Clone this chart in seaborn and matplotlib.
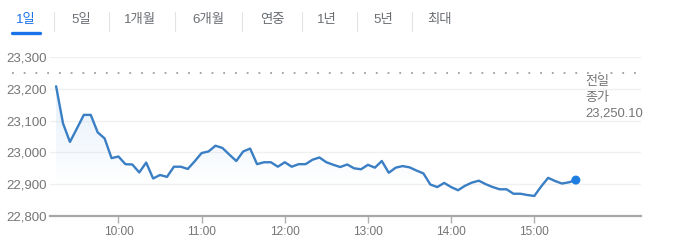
import matplotlib
matplotlib.use("Agg")
import numpy as np
import pandas as pd
import seaborn as sns
import matplotlib.pyplot as plt
from matplotlib.lines import Line2D

# ---------------- data ----------------
times = [
    "09:15", "09:20", "09:25", "09:30", "09:35", "09:40", "09:45", "09:50", "09:55",
    "10:00", "10:05", "10:10", "10:15", "10:20", "10:25", "10:30", "10:35", "10:40", "10:45", "10:50", "10:55",
    "11:00", "11:05", "11:10", "11:15", "11:20", "11:25", "11:30", "11:35", "11:40", "11:45", "11:50", "11:55",
    "12:00", "12:05", "12:10", "12:15", "12:20", "12:25", "12:30", "12:35", "12:40", "12:45", "12:50", "12:55",
    "13:00", "13:05", "13:10", "13:15", "13:20", "13:25", "13:30", "13:35", "13:40", "13:45", "13:50", "13:55",
    "14:00", "14:05", "14:10", "14:15", "14:20", "14:25", "14:30", "14:35", "14:40", "14:45", "14:50", "14:55",
    "15:00", "15:05", "15:10", "15:15", "15:20", "15:25", "15:30",
]
values = [
    23208, 23091, 23033, 23075, 23118, 23118, 23063, 23044, 22982,
    22987, 22963, 22962, 22937, 22968, 22918, 22929, 22923, 22955, 22955, 22948, 22972,
    22998, 23003, 23021, 23014, 22993, 22973, 23003, 23012, 22963, 22969, 22969, 22955,
    22969, 22955, 22963, 22963, 22977, 22984, 22969, 22961, 22954, 22962, 22950, 22947,
    22961, 22952, 22973, 22936, 22952, 22957, 22953, 22943, 22934, 22899, 22891, 22904,
    22891, 22881, 22895, 22905, 22911, 22900, 22891, 22884, 22884, 22870, 22870, 22866,
    22863, 22893, 22920, 22910, 22902, 22906, 22913,
]
prev_close = 23250.10
y_ticks = [22800, 22900, 23000, 23100, 23200, 23300]
x_tick_labels = ["10:00", "11:00", "12:00", "13:00", "14:00", "15:00"]
tabs = ["1일", "5일", "1개월", "6개월", "연중", "1년", "5년", "최대"]
active_tab = "1일"

# ---------------- helpers ----------------
def to_min(s):
    h, m = s.split(":")
    return int(h) * 60 + int(m)

df = pd.DataFrame({"t": [to_min(s) for s in times], "v": values})
x_ticks = [to_min(s) for s in x_tick_labels]

LINE = "#3a7ec4"
DOT = "#1e7fe0"
GRAY_TXT = "#757575"
BLUE = "#1a73e8"

sns.set_theme(style="white")
plt.rcParams["font.family"] = ["Liberation Sans", "Noto Sans CJK KR", "DejaVu Sans"]

W, H = 680, 248
fig = plt.figure(figsize=(W / 100, H / 100), dpi=100)
fig.patch.set_facecolor("white")

ax = fig.add_axes([50 / W, (H - 216) / H, 591 / W, (216 - 57) / H])
ax.set_facecolor("white")

xmin, xmax = 550.6, 977.0
ymin, ymax = 22800, 23300

# gradient fill under the line
poly = ax.fill_between(df["t"], df["v"], ymin, color="none", lw=0)
grad_lo, grad_hi = ymin, df["v"].max()
n = 256
alpha = np.clip((np.linspace(grad_lo, grad_hi, n) - 22890) / (grad_hi - 22890), 0, 1) ** 1.1 * 0.5
rgba = np.zeros((n, 1, 4))
rgba[..., 0] = 0.78
rgba[..., 1] = 0.87
rgba[..., 2] = 0.97
rgba[:, 0, 3] = alpha
im = ax.imshow(rgba, extent=[xmin, xmax, grad_lo, grad_hi], origin="lower",
               aspect="auto", zorder=1, interpolation="bilinear")
im.set_clip_path(poly.get_paths()[0], transform=ax.transData)

# gridlines
for yv in y_ticks[1:]:
    ax.axhline(yv, color="#f0f0f0", lw=1.0, zorder=0)

# previous close dotted line (extends to the left past the axes)
ax.axhline(prev_close, xmin=-0.065, xmax=1.0, color="#9e9e9e", lw=1.3,
           linestyle=(0, (1, 5.5)), clip_on=False, zorder=2)

# price line
sns.lineplot(data=df, x="t", y="v", ax=ax, color=LINE, lw=1.7, zorder=3)
last = df.iloc[[-1]]
sns.scatterplot(data=last, x="t", y="v", ax=ax, color=DOT, s=42,
                edgecolor="none", zorder=4, clip_on=False)

ax.set_xlim(xmin, xmax)
ax.set_ylim(ymin, ymax)
ax.set_xlabel("")
ax.set_ylabel("")

for s in ["top", "right", "left"]:
    ax.spines[s].set_visible(False)
ax.spines["bottom"].set_color("#a8a8a8")
ax.spines["bottom"].set_linewidth(1.6)

ax.set_xticks(x_ticks)
ax.set_xticklabels(x_tick_labels)
ax.set_yticks(y_ticks)
ax.set_yticklabels([f"{v:,}" for v in y_ticks])
ax.tick_params(axis="x", length=5, width=1, color="#b0b0b0", pad=2.5,
               labelcolor=GRAY_TXT, labelsize=8.6, bottom=True)
ax.tick_params(axis="y", length=0, pad=2, labelcolor=GRAY_TXT, labelsize=9.5)

# previous close label
fig.text(585 / W, 1 - 76 / H, f"전일\n종가\n{prev_close:,.2f}",
         ha="left", va="top", fontsize=9.4, color=GRAY_TXT, linespacing=1.42)

# tabs
tab_x = [26, 81, 140, 208, 272, 327, 383, 440]
sep_x = [54, 109, 175, 242, 302, 357, 412]
for lbl, xc in zip(tabs, tab_x):
    fig.text(xc / W, 1 - 20 / H, lbl, ha="center", va="center", fontsize=9.6,
             color=BLUE if lbl == active_tab else "#6b6f74")
for xs in sep_x:
    fig.add_artist(Line2D([xs / W, xs / W], [1 - 12 / H, 1 - 31 / H],
                          color="#e3e3e3", lw=0.8, transform=fig.transFigure))
fig.add_artist(Line2D([12 / W, 40 / W], [1 - 33.5 / H, 1 - 33.5 / H],
                      color=BLUE, lw=2.4, solid_capstyle="round",
                      transform=fig.transFigure))

fig.savefig("out.png", dpi=100, facecolor="white")
